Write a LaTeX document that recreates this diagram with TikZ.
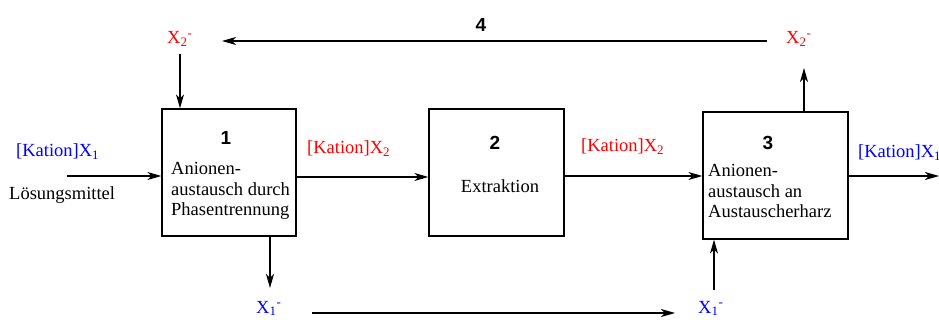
\documentclass[tikz,border=0pt]{standalone}
\usepackage{fontspec}
\setmainfont{Liberation Serif}
\newfontfamily\numfont{Liberation Sans}
\usetikzlibrary{arrows.meta}
\definecolor{myred}{RGB}{255,0,0}
\definecolor{myblue}{RGB}{0,0,255}
\newcommand{\Xsub}[2]{X\textsubscript{#1}\rlap{\textsuperscript{#2}}}
\begin{document}
\begin{tikzpicture}[x=1pt,y=-1pt,
  box/.style={draw,line width=1.3pt,minimum width=#1,minimum height=127pt,inner sep=0pt},
  txt/.style={font=\fontsize{18.5}{20.5}\selectfont,inner sep=0pt,anchor=base west,align=left},
  num/.style={font=\fontsize{19}{20}\numfont\bfseries,inner sep=0pt,anchor=base},
  arr/.style={line width=1.2pt,-{Stealth[length=14pt,width=8pt,inset=4pt]}},
  red/.style={text=myred},
  blue/.style={text=myblue}]
\useasboundingbox (0,0) rectangle (939,320);
% boxes
\node[box=134pt] (b1) at (229,172.5) {};
\node[box=135pt] (b2) at (496.5,172.5) {};
\node[box=145pt] (b3) at (775.5,175.5) {};
% box texts
\node[num] (n1) at (226,145) {1};
\node[num] (n2) at (495,149.5) {2};
\node[num] (n3) at (768,150) {3};
\node[num] (n4) at (481,32) {4};
\node[txt] (t1) at (171,216) {Anionen-\\austausch durch\\Phasentrennung};
\node[txt,anchor=base] (t2) at (500,193) {Extraktion};
\node[txt] (t3) at (708,218) {Anionen-\\austausch an\\Austauscherharz};
% labels
\node[txt,blue] (lk1) at (16,157) {[Kation]\Xsub{1}{}};
\node[txt] (lm) at (9,200) {Lösungsmittel};
\node[txt,red] (lk2) at (307,154) {[Kation]\Xsub{2}{}};
\node[txt,red] (lk3) at (581,152) {[Kation]\Xsub{2}{}};
\node[txt,blue] (lk4) at (858,158) {[Kation]\Xsub{1}{}};
\node[txt,red] (x2l) at (167,44) {\Xsub{2}{-}};
\node[txt,red] (x2r) at (786,44) {\Xsub{2}{-}};
\node[txt,blue] (x1l) at (256,313) {\Xsub{1}{-}};
\node[txt,blue] (x1r) at (698,313) {\Xsub{1}{-}};
% connector end points
\coordinate (in1) at (67,176);
\coordinate (out3) at (939,176);
\coordinate (a4s) at (767,41);
\coordinate (a4e) at (222,41);
\coordinate (x2ltop) at (180,54);
\coordinate (x2rbot) at (804,68);
\coordinate (x1ltop) at (270,288);
\coordinate (bots) at (312,313);
\coordinate (bote) at (675,313);
\coordinate (x1rtop) at (714,290);
% connectors
\draw[arr] (in1) -- (in1 -| b1.west);
\draw[arr] (b1.east |- 0,177) -- (b2.west |- 0,177);
\draw[arr] (b2.east |- 0,176) -- (b3.west |- 0,176);
\draw[arr] (b3.east |- out3) -- (out3);
\draw[arr] (x2ltop) -- (x2ltop |- b1.north);
\draw[arr] (a4s) -- (a4e);
\draw[arr] (x2rbot |- b3.north) -- (x2rbot);
\draw[arr] (x1ltop |- b1.south) -- (x1ltop);
\draw[arr] (bots) -- (bote);
\draw[arr] (x1rtop) -- (x1rtop |- b3.south);
\end{tikzpicture}
\end{document}
